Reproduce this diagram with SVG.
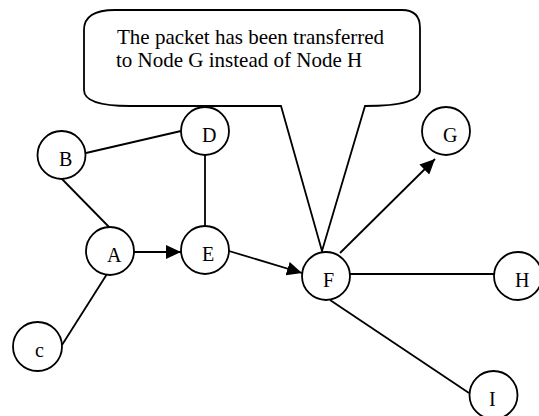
<svg xmlns="http://www.w3.org/2000/svg" width="539" height="416" viewBox="0 0 539 416">
  <style>
    .node circle { fill: #ffffff; stroke: #000000; stroke-width: 1.8; }
    .node text { font-family: "Liberation Serif", "Times New Roman", serif; font-size: 20px; fill: #000000; }
    .edge { stroke: #000000; stroke-width: 1.8; fill: none; }
    .callout path { fill: #ffffff; stroke: #000000; stroke-width: 1.8; stroke-linejoin: miter; }
    .callout text { font-family: "Liberation Serif", "Times New Roman", serif; font-size: 21px; fill: #000000; }
  </style>
  <defs>
    <marker id="arrow" markerUnits="userSpaceOnUse" markerWidth="16" markerHeight="14" refX="15" refY="7" orient="auto">
      <path d="M0,0 L15,7 L0,14 Z" fill="#000000"/>
    </marker>
  </defs>

  <rect x="0" y="0" width="539" height="416" fill="#ffffff"/>

  <!-- speech bubble pointing at node F -->
  <g id="callout" class="callout">
    <path d="M84,30 Q84,10 115,10 L402,10 Q420,10 420,28 L420,90 Q420,106 365,106 L322,251 L281,106 L130,106 Q84,106 84,90 Z"/>
    <text x="117" y="44">The packet has been transferred</text>
    <text x="116" y="67">to Node G instead of Node H</text>
  </g>

  <!-- links between nodes -->
  <g id="connectors">
    <line class="edge" x1="86" y1="153" x2="181" y2="131"/>
    <line class="edge" x1="61" y1="178" x2="109" y2="227"/>
    <line class="edge" x1="205" y1="155" x2="205" y2="226"/>
    <line class="edge" x1="107" y1="274" x2="62" y2="345"/>
    <line class="edge" x1="134" y1="252" x2="181" y2="252" marker-end="url(#arrow)"/>
    <line class="edge" x1="229" y1="251" x2="302" y2="273" marker-end="url(#arrow)"/>
    <line class="edge" x1="340" y1="253" x2="435" y2="159" marker-end="url(#arrow)"/>
    <line class="edge" x1="350" y1="274" x2="494" y2="274"/>
    <line class="edge" x1="330" y1="300" x2="469" y2="393"/>
  </g>

  <g id="node-B" class="node"><circle cx="61.5" cy="155" r="24"/><text x="59" y="166">B</text></g>
  <g id="node-D" class="node"><circle cx="205" cy="131" r="24"/><text x="202" y="142">D</text></g>
  <g id="node-A" class="node"><circle cx="110" cy="251" r="24"/><text x="107" y="262">A</text></g>
  <g id="node-E" class="node"><circle cx="205" cy="250" r="24"/><text x="202" y="261">E</text></g>
  <g id="node-c" class="node"><circle cx="37.5" cy="346.5" r="24.5"/><text x="35" y="357">c</text></g>
  <g id="node-F" class="node"><circle cx="326" cy="276" r="24"/><text x="323" y="287">F</text></g>
  <g id="node-G" class="node"><circle cx="446" cy="131" r="24"/><text x="443" y="142">G</text></g>
  <g id="node-H" class="node"><circle cx="518" cy="276" r="24"/><text x="515" y="287">H</text></g>
  <g id="node-I" class="node"><circle cx="493.5" cy="395" r="24"/><text x="489" y="406">I</text></g>
</svg>
